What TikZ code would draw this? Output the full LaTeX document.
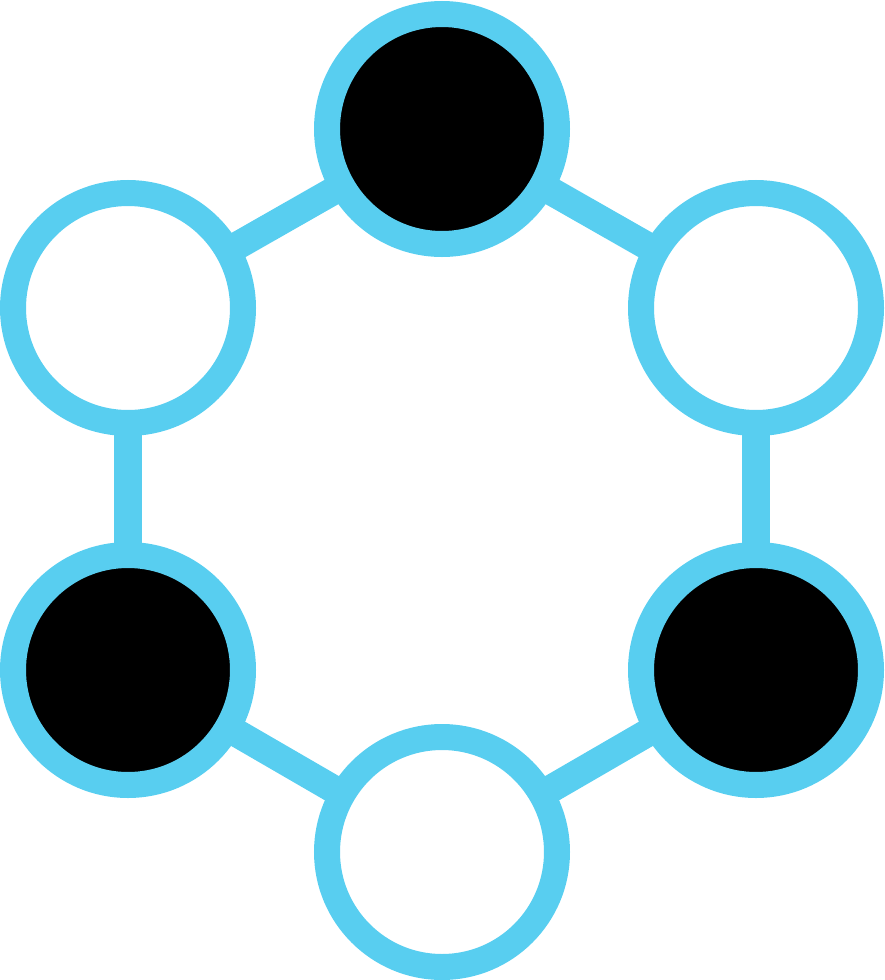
\documentclass[tikz,border=0pt]{standalone}
\usetikzlibrary{backgrounds}
\definecolor{ringblue}{RGB}{88,206,240}
\begin{document}
\begin{tikzpicture}[x=1pt,y=-1pt,
  ring/.style={circle, draw=ringblue, line width=26pt, minimum size=230pt, inner sep=0pt, outer sep=0pt},
  full/.style={ring, fill=black},
  empty/.style={ring, fill=white},
  link/.style={draw=ringblue, line width=28pt}]
\useasboundingbox (0,0) rectangle (884,980);
\node[full]  (t)  at (442,129) {};
\node[empty] (ul) at (128,308) {};
\node[empty] (ur) at (756,308) {};
\node[full]  (ll) at (128,670) {};
\node[full]  (lr) at (756,670) {};
\node[empty] (b)  at (442,852) {};
\begin{scope}[on background layer]
\draw[link] (t.center) -- (ul.center);
\draw[link] (t.center) -- (ur.center);
\draw[link] (ul.center) -- (ll.center);
\draw[link] (ur.center) -- (lr.center);
\draw[link] (ll.center) -- (b.center);
\draw[link] (lr.center) -- (b.center);
\end{scope}
\end{tikzpicture}
\end{document}
